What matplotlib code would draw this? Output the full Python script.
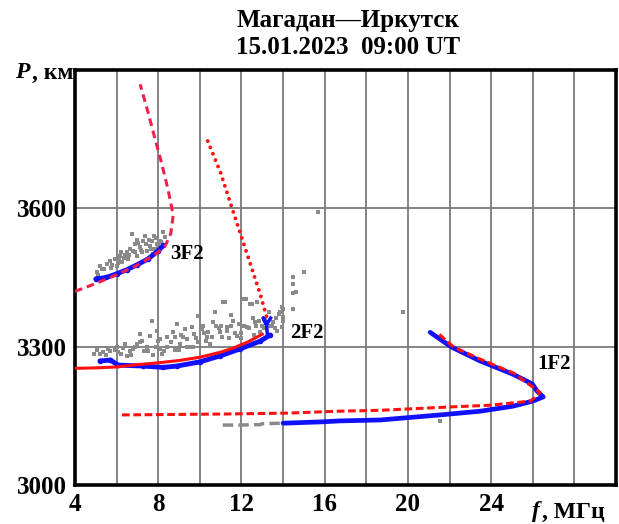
import numpy as np
import matplotlib
matplotlib.use("Agg")
import matplotlib.pyplot as plt

plt.rcParams['font.family'] = ['Liberation Serif', 'DejaVu Serif']
plt.rcParams['font.weight'] = 'bold'

# --- data (f in MHz, P in km) ---
# 3F2 model (red dashed)
f_3f2_model = [4.0, 5.0, 6.0, 7.0, 7.6, 8.0, 8.35, 8.6, 8.72, 8.47, 8.15, 7.85, 7.5, 7.13]
p_3f2_model = [3420, 3437, 3456, 3477, 3493, 3505, 3520, 3545, 3585, 3641, 3700, 3750, 3810, 3869]
# 3F2 measured (blue)
f_3f2_obs = [5.0, 5.5, 6.0, 6.5, 7.0, 7.5, 8.0, 8.25]
p_3f2_obs = [3447, 3450, 3458, 3467, 3478, 3490, 3508, 3520]
# 3F2 raw points (gray)
f_3f2_raw = [5.06, 5.2, 5.54, 5.68, 5.92, 6.0, 6.16, 6.26, 6.5, 6.55, 6.74, 6.8, 6.88, 6.98,
             7.12, 7.27, 7.37, 7.46, 7.6, 7.7, 7.75, 7.94, 8.23, 8.33, 5.3, 5.8, 6.4, 7.05,
             7.85, 8.1, 6.1, 6.65, 7.2, 7.55, 8.0, 5.1, 5.4, 5.75, 6.05, 6.35, 6.6, 6.9, 7.15,
             7.4, 7.65, 7.9, 8.15, 6.2, 7.0, 7.8]
p_3f2_raw = [3463, 3474, 3479, 3485, 3490, 3474, 3496, 3483, 3505, 3490, 3545, 3507, 3522, 3496,
             3516, 3529, 3540, 3507, 3518, 3529, 3500, 3522, 3548, 3537, 3468, 3478, 3498, 3525,
             3512, 3530, 3488, 3512, 3505, 3532, 3520, 3455, 3468, 3470, 3482, 3492, 3498, 3505,
             3510, 3522, 3512, 3535, 3528, 3505, 3532, 3540]

# 2F2 model: lower ray (red solid) and upper ray (red dotted)
f_2f2_low = [4.0, 5.0, 6.0, 7.0, 8.0, 9.0, 10.0, 11.0, 11.6, 12.3, 13.0]
p_2f2_low = [3253, 3254, 3256, 3261, 3265, 3270, 3277, 3288, 3297, 3310, 3327]
f_2f2_high = [13.2, 12.9, 12.27, 11.55, 11.0, 10.35]
p_2f2_high = [3366, 3414, 3501, 3600, 3677, 3749]
# 2F2 measured (blue)
f_2f2_obs = [5.2, 5.7, 6.07, 7.27, 8.23, 8.9, 10.0, 10.97, 11.93, 12.9, 13.37]
p_2f2_obs = [3269, 3271, 3260, 3258, 3255, 3258, 3267, 3280, 3295, 3312, 3325]
f_2f2_hook = [13.25, 13.2, 13.05, 13.2, 13.4]
p_2f2_hook = [3325, 3348, 3362, 3348, 3362]
# 2F2 raw points (gray)
f_2f2_raw = [5.06, 5.35, 5.68, 6.07, 6.3, 6.64, 7.12, 7.12, 7.46, 7.7, 7.6, 7.94, 8.09, 8.42,
             8.71, 8.9, 9.05, 9.29, 9.38, 9.67, 9.9, 10.15, 10.34, 10.63, 10.73, 10.97, 11.1,
             11.3, 11.6, 11.8, 12.1, 12.27, 12.5, 12.65, 12.9, 13.5, 13.86, 13.95, 14.0, 14.48,
             6.5, 7.75, 8.3, 9.5, 10.5, 11.4, 12.0, 12.4, 12.75, 13.1, 13.6, 14.0, 14.0, 13.95,
             14.5, 15.0, 14.5, 14.6, 14.5, 15.7, 11.2, 5.5, 6.9, 8.0, 9.1, 10.2, 11.0, 12.2,
             13.3, 13.7, 19.77, 21.55, 4.9, 13.8]
p_2f2_raw = [3292, 3288, 3290, 3288, 3297, 3290, 3327, 3310, 3299, 3355, 3323, 3334, 3316, 3299,
             3331, 3349, 3305, 3338, 3316, 3299, 3366, 3344, 3320, 3353, 3375, 3331, 3396,
             3342, 3355, 3323, 3403, 3342, 3392, 3353, 3331, 3353, 3375, 3386, 3364, 3416,
             3279, 3283, 3290, 3300, 3306, 3318, 3330, 3392, 3396, 3340, 3340, 3381, 3355, 3342,
             3450, 3461, 3435, 3418, 3381, 3591, 3396, 3282, 3300, 3312, 3325, 3330, 3345, 3403,
             3345, 3335, 3375, 3139, 3285, 3370]
f_2f2_raw_b = [5.2, 5.9, 6.2, 6.8, 7.0, 7.3, 7.9, 8.2, 8.6, 8.8, 9.2, 9.4, 9.7, 9.9, 10.1, 10.4,
               10.6, 10.8, 11.05, 11.3, 11.5, 11.7, 11.9, 12.1, 12.35, 12.55, 12.7, 12.85, 13.0,
               13.15, 13.45, 13.65, 6.0, 6.7, 7.5, 8.4, 9.0, 9.6, 10.3, 10.9, 11.5, 12.0, 12.6,
               13.3, 5.6, 6.4, 7.2, 8.1, 8.8, 9.8]
p_2f2_raw_b = [3285, 3292, 3284, 3295, 3305, 3290, 3300, 3285, 3310, 3292, 3320, 3300, 3328,
               3310, 3338, 3332, 3322, 3345, 3322, 3335, 3345, 3330, 3350, 3345, 3340, 3362,
               3345, 3355, 3345, 3360, 3345, 3362, 3300, 3282, 3290, 3320, 3292, 3342, 3312,
               3340, 3368, 3318, 3325, 3375, 3296, 3305, 3312, 3295, 3322, 3318]

# 1F2 model (red dashed)
f_1f2_model = [6.26, 11.3, 14.3, 16.6, 18.66, 21.9, 23.95, 25.9, 26.35, 25.06, 23.47, 22.2, 21.4]
p_1f2_model = [3152, 3154, 3156, 3160, 3162, 3169, 3173, 3182, 3201, 3243, 3273, 3299, 3331]
# 1F2 measured (blue)
f_1f2_obs = [14.0, 15.9, 16.7, 18.66, 21.55, 23.47, 25.06, 26.0, 26.5, 26.2, 25.98, 25.06,
             23.47, 22.1, 21.2, 21.07]
p_1f2_obs = [3134, 3137, 3139, 3141, 3152, 3160, 3171, 3182, 3191, 3204, 3219, 3240,
             3269, 3299, 3327, 3331]
# 1F2 raw low segment (gray)
f_1f2_raw = [11.1, 11.6, 11.9, 12.9, 13.0, 14.0]
p_1f2_raw = [3130, 3130, 3130, 3131, 3133, 3134]

mode_labels = ['3F2', '2F2', '1F2']
mode_f = [8.55, 14.35, 26.2]
mode_p = [3500, 3329, 3262]

x_ticks = list(range(4, 31, 2))
x_labels = [str(t) if t % 4 == 0 and t <= 24 else '' for t in x_ticks]
y_ticks = [3000, 3300, 3600, 3900]
y_labels = ['3000', '3300', '3600', '']

# --- figure ---
fig = plt.figure(figsize=(6.19, 5.24), dpi=100)
ax = fig.add_axes([75 / 619, 1 - 485 / 524, (616 - 75) / 619, (485 - 70) / 524])

gray = '#8a8a8a'
blue = '#1010ff'
red = '#ff1010'
pink = '#f0204a'

for fx, py in [(f_3f2_raw, p_3f2_raw), (f_2f2_raw, p_2f2_raw), (f_2f2_raw_b, p_2f2_raw_b)]:
    ax.scatter(fx, py, s=8, marker='s', color=gray, zorder=2, linewidths=0)
ax.plot(f_1f2_raw, p_1f2_raw, color=gray, lw=2.5, ls=(0, (3, 1.5)), zorder=2)

ax.plot(f_3f2_model, p_3f2_model, color=pink, lw=2.2, ls=(0, (2.5, 1.6)), zorder=4)
ax.plot(f_3f2_obs, p_3f2_obs, color=blue, lw=3.5, zorder=3,
        marker='o', ms=3, solid_capstyle='round')

ax.plot(f_2f2_low, p_2f2_low, color=red, lw=2.2, zorder=4)
ax.plot(f_2f2_high, p_2f2_high, color=red, lw=2.8, ls=(0, (0.01, 1.75)),
        dash_capstyle='round', zorder=4)
ax.plot(f_2f2_obs, p_2f2_obs, color=blue, lw=3.5, zorder=3,
        marker='o', ms=3, solid_capstyle='round')
ax.plot(f_2f2_hook, p_2f2_hook, color=blue, lw=2.5, zorder=3)

ax.plot(f_1f2_model, p_1f2_model, color=red, lw=2.2, ls=(0, (2.5, 1.2)), zorder=4)
ax.plot(f_1f2_obs, p_1f2_obs, color=blue, lw=3.4, zorder=3, solid_capstyle='round')

for lab, fx, py in zip(mode_labels, mode_f, mode_p):
    ax.text(fx, py, lab, fontsize=15, fontweight='bold', ha='left', va='center', zorder=5)

ax.set_xlim(4, 30)
ax.set_ylim(3000, 3900)
ax.set_xticks(x_ticks)
ax.set_xticklabels(x_labels)
ax.set_yticks(y_ticks)
ax.set_yticklabels(y_labels)
ax.tick_params(length=0, labelsize=18, pad=6)
ax.grid(True, color='#7a7a7a', lw=1.3)
ax.set_axisbelow(True)
for s in ax.spines.values():
    s.set_linewidth(2.6)
    s.set_color('black')

fig.text(0.563, 1 - 20 / 524, 'Магадан—Иркутск', ha='center', va='center',
         fontsize=18, fontweight='bold')
fig.text(0.563, 1 - 48 / 524, '15.01.2023  09:00 UT', ha='center', va='center',
         fontsize=18, fontweight='bold')

fig.text(15 / 619, 1 - 73 / 524, 'P', ha='left', va='center', fontsize=17,
         fontweight='bold', fontstyle='italic')
fig.text(32 / 619, 1 - 73 / 524, ', км', ha='left', va='center', fontsize=17,
         fontweight='bold')
fig.text(532 / 619, 1 - 512 / 524, 'f', ha='left', va='center', fontsize=17,
         fontweight='bold', fontstyle='italic')
fig.text(542 / 619, 1 - 512 / 524, ', МГц', ha='left', va='center', fontsize=17,
         fontweight='bold')

fig.savefig('out.png', dpi=100)
